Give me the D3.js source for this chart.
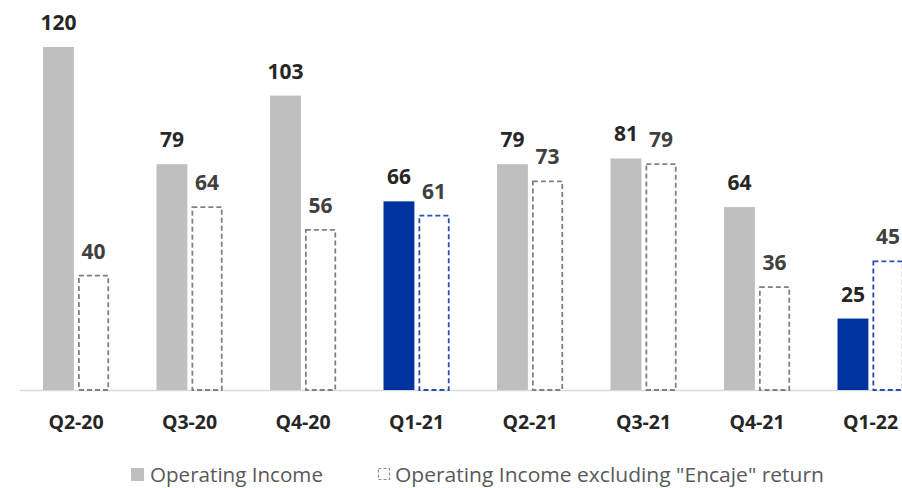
<!DOCTYPE html>
<html>
<head>
<meta charset="utf-8">
<script src="https://cdn.jsdelivr.net/npm/d3@7"></script>
<style>
  body { margin: 0; background: #fff; }
  svg { display: block; font-family: "Open Sans", Lato, sans-serif; }
</style>
</head>
<body>
<svg id="chart" width="902" height="488"></svg>
<script>
// chart data
const quarters = ["Q2-20", "Q3-20", "Q4-20", "Q1-21", "Q2-21", "Q3-21", "Q4-21", "Q1-22"]
const operatingIncome = [120, 79, 103, 66, 79, 81, 64, 25]
const excludingEncaje = [40, 64, 56, 61, 73, 79, 36, 45]
const highlighted = ["Q1-21", "Q1-22"]
const legendLabels = ["Operating Income", "Operating Income excluding \"Encaje\" return"]

const svg = d3.select("#chart")
const baseY = 390

const x = d3.scaleBand().domain(quarters).range([19.25, 927.25])
const sub = d3.scaleBand().domain(["op", "ex"]).range([0, 66]).paddingInner(0.12)
const y = d3.scaleLinear().domain([0, 120]).range([baseY, 47])

const rows = quarters.map((q, i) => ({ q, op: operatingIncome[i], ex: excludingEncaje[i], hl: highlighted.includes(q) }))
const gx = d => x(d.q) + (x.bandwidth() - 66) / 2

// axis line
svg.append("line")
    .attr("x1", 20).attr("x2", 902)
    .attr("y1", baseY + 0.5).attr("y2", baseY + 0.5)
    .attr("stroke", "#d9d9d9")
    .attr("stroke-width", 1.5)

const groups = svg.append("g").selectAll("g")
    .data(rows)
    .enter().append("g")
    .attr("transform", d => `translate(${gx(d)},0)`)

// solid bars
groups.append("rect")
    .attr("x", sub("op"))
    .attr("y", d => y(d.op))
    .attr("width", sub.bandwidth())
    .attr("height", d => baseY - y(d.op))
    .attr("fill", d => d.hl ? "#0033a0" : "#bfbfbf")

// dashed bars
groups.append("rect")
    .attr("x", sub("ex") + 0.75)
    .attr("y", d => y(d.ex))
    .attr("width", sub.bandwidth() - 1.5)
    .attr("height", d => baseY - y(d.ex))
    .attr("fill", "#fff")
    .attr("stroke", d => d.hl ? "#2a4fae" : "#808080")
    .attr("stroke-width", 1.8)
    .attr("stroke-dasharray", "5,3")

// value labels
groups.append("text")
    .attr("x", sub("op") + sub.bandwidth() / 2)
    .attr("y", d => y(d.op) - 17)
    .attr("text-anchor", "middle")
    .attr("font-size", 21)
    .attr("font-weight", "bold")
    .attr("fill", "#262626")
    .text(d => d.op)

groups.append("text")
    .attr("x", sub("ex") + sub.bandwidth() / 2)
    .attr("y", d => y(d.ex) - 17)
    .attr("text-anchor", "middle")
    .attr("font-size", 21)
    .attr("font-weight", "bold")
    .attr("fill", "#404040")
    .text(d => d.ex)

// category labels
svg.append("g").selectAll("text")
    .data(quarters)
    .enter().append("text")
    .attr("x", d => x(d) + x.bandwidth() / 2)
    .attr("y", 429)
    .attr("text-anchor", "middle")
    .attr("font-size", 19.5)
    .attr("font-weight", "bold")
    .attr("fill", "#262626")
    .text(d => d)

// legend
const legend = svg.append("g")
legend.append("rect")
    .attr("x", 131).attr("y", 468).attr("width", 13).attr("height", 13)
    .attr("fill", "#bfbfbf")
legend.append("text")
    .attr("x", 150).attr("y", 482)
    .attr("font-size", 19.5)
    .attr("fill", "#595959")
    .attr("textLength", 173)
    .attr("lengthAdjust", "spacingAndGlyphs")
    .text(legendLabels[0])
legend.append("rect")
    .attr("x", 378.5).attr("y", 468.5).attr("width", 11).attr("height", 11)
    .attr("fill", "#fff")
    .attr("stroke", "#8c8c8c")
    .attr("stroke-width", 1.2)
    .attr("stroke-dasharray", "3,2")
legend.append("text")
    .attr("x", 395).attr("y", 482)
    .attr("font-size", 19.5)
    .attr("fill", "#595959")
    .attr("textLength", 429)
    .attr("lengthAdjust", "spacingAndGlyphs")
    .text(legendLabels[1])
</script>
</body>
</html>
